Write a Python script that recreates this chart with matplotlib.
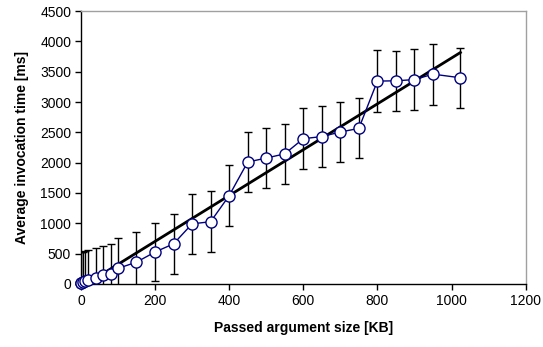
import matplotlib
matplotlib.use("Agg")
import matplotlib.pyplot as plt
import numpy as np

plt.rcParams['font.family'] = ['Liberation Sans', 'DejaVu Sans']

size_kb = [0, 1, 5, 10, 20, 40, 60, 80, 100, 150, 200, 250, 300, 350, 400, 450,
           500, 550, 600, 650, 700, 750, 800, 850, 900, 950, 1024]
avg_ms = [20, 22, 30, 45, 70, 100, 140, 165, 255, 358, 525, 660, 990, 1025, 1455, 2010,
          2075, 2145, 2395, 2430, 2505, 2565, 3345, 3350, 3370, 3460, 3400]
err_ms = [500, 500, 500, 490, 490, 495, 490, 490, 500, 494, 485, 500, 500, 500, 505, 502,
          500, 500, 505, 500, 500, 495, 508, 500, 505, 505, 495]

x_ticks = [0, 200, 400, 600, 800, 1000, 1200]
y_ticks = [0, 500, 1000, 1500, 2000, 2500, 3000, 3500, 4000, 4500]

fig = plt.figure(figsize=(5.43, 3.47), dpi=100)
ax = fig.add_axes([0.149, 0.182, 0.819, 0.786])

x = np.array(size_kb, dtype=float)
y = np.array(avg_ms, dtype=float)

ax.errorbar(x, y, yerr=err_ms, fmt='none', ecolor='black', elinewidth=1.0,
            capsize=2.7, capthick=1.0, zorder=2)

# linear trendline
k, b = np.polyfit(x, y, 1)
xt = np.array([x.min(), x.max()])
ax.plot(xt, k * xt + b, color='black', lw=2.0, zorder=3)

ax.plot(x, y, color='#000080', lw=1.0, marker='o', markersize=8,
        markerfacecolor='white', markeredgecolor='#000080', markeredgewidth=1.0,
        zorder=4, clip_on=False)

ax.set_xlim(0, 1200)
ax.set_ylim(0, 4500)
ax.set_xticks(x_ticks)
ax.set_yticks(y_ticks)
ax.tick_params(direction='out', length=4, width=1, labelsize=10, colors='black', pad=3)

for s in ['left', 'bottom']:
    ax.spines[s].set_color('black')
    ax.spines[s].set_linewidth(1.0)
for s in ['top', 'right']:
    ax.spines[s].set_color('#a0a0a0')
    ax.spines[s].set_linewidth(1.0)

ax.set_xlabel('Passed argument size [KB]', fontsize=10, fontweight='bold', labelpad=10)
ax.set_ylabel('Average invocation time [ms]', fontsize=10, fontweight='bold', labelpad=8)

fig.savefig('out.png', dpi=100)
